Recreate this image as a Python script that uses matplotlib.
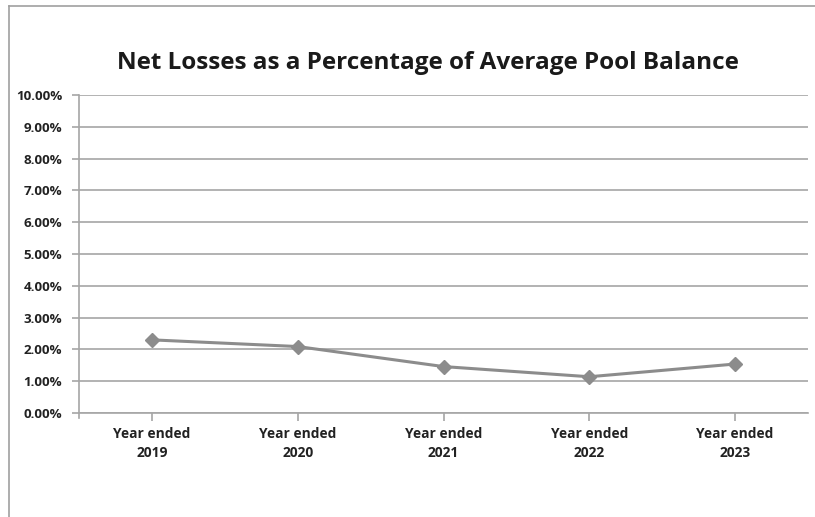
import matplotlib
matplotlib.use("Agg")
import matplotlib.pyplot as plt
from matplotlib.lines import Line2D
from matplotlib.ticker import FuncFormatter, MultipleLocator

categories = ["Year ended\n2019", "Year ended\n2020", "Year ended\n2021",
              "Year ended\n2022", "Year ended\n2023"]
net_loss_pct = [2.30, 2.09, 1.46, 1.14, 1.54]
title = "Net Losses as a Percentage of Average Pool Balance"

plt.rcParams['font.family'] = ['Open Sans', 'DejaVu Sans']

W, H = 815, 517
fig = plt.figure(figsize=(W / 100, H / 100), dpi=100)
ax = fig.add_axes([79 / W, 1 - 413 / H, (808 - 79) / W, (413 - 95) / H])

grid_c = "#a6a6a6"
x = list(range(len(categories)))
ax.plot(x, net_loss_pct, color="#8c8c8c", lw=2.2, marker="D", markersize=7,
        markerfacecolor="#8c8c8c", markeredgecolor="#8c8c8c", zorder=3)

ax.set_xlim(-0.5, len(categories) - 0.5)
ax.set_ylim(0, 10)
ax.yaxis.set_major_locator(MultipleLocator(1))
ax.yaxis.set_major_formatter(FuncFormatter(lambda v, p: f"{v:.2f}%"))
ax.set_xticks(x)
ax.set_xticklabels(categories, fontweight="bold", fontsize=9.9, color="#222222",
                   linespacing=1.47)
for lab in ax.get_yticklabels():
    lab.set_fontweight("bold")
    lab.set_fontsize(9.6)
    lab.set_color("#222222")

ax.grid(axis="y", color=grid_c, lw=1.2)
ax.set_axisbelow(True)
for s in ["top", "right"]:
    ax.spines[s].set_visible(False)
ax.spines["left"].set_color(grid_c)
ax.spines["bottom"].set_color(grid_c)
ax.spines["left"].set_linewidth(1.2)
ax.spines["bottom"].set_linewidth(1.2)
ax.spines["left"].set_bounds(-0.15, 10)
ax.tick_params(axis="y", color=grid_c, length=5, width=1.2, pad=7)
ax.tick_params(axis="x", color=grid_c, length=6, width=1.2, pad=4)

fig.text(428 / W, 1 - 63 / H, title, ha="center", va="center",
         fontsize=17.5, fontweight="bold", color="#1a1a1a")

# outer chart frame (left and top)
fig.add_artist(Line2D([9 / W, 9 / W], [0, 1 - 6 / H], transform=fig.transFigure,
                      color="#a0a0a0", lw=1.2))
fig.add_artist(Line2D([9 / W, 1], [1 - 6 / H, 1 - 6 / H], transform=fig.transFigure,
                      color="#a0a0a0", lw=1.2))

fig.savefig("out.png", dpi=100)
